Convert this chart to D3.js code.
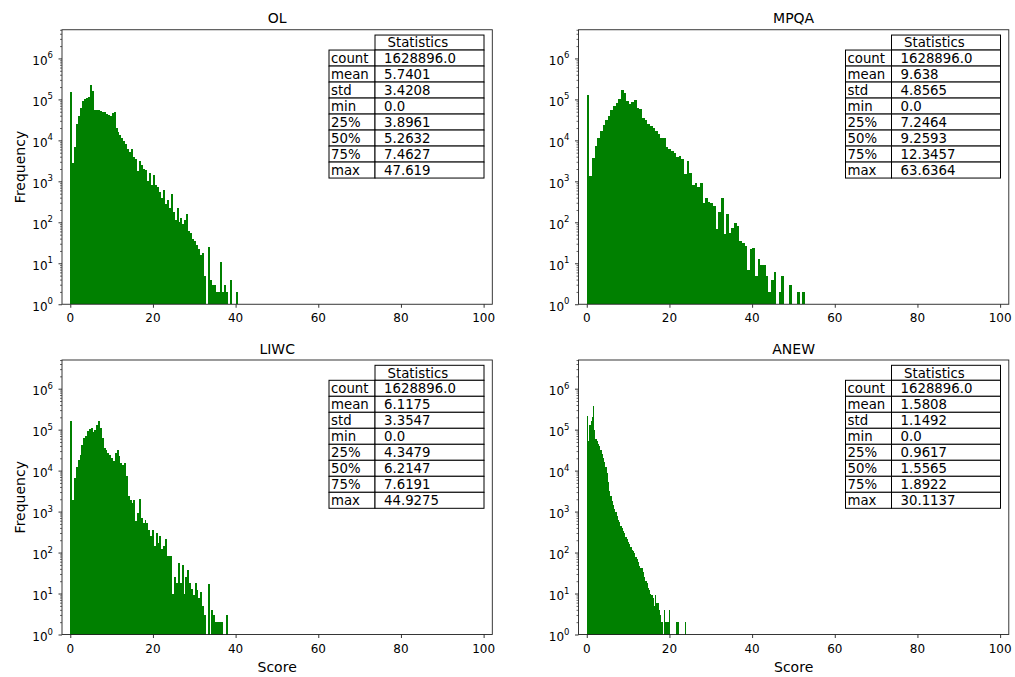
<!DOCTYPE html>
<html>
<head>
<meta charset="utf-8">
<script src="https://cdn.jsdelivr.net/npm/d3@7"></script>
<style>
  body { margin: 0; background: #fff; }
  svg { display: block; }
  text { font-family: "DejaVu Sans", sans-serif; fill: #000; }
</style>
</head>
<body>
<svg id="chart" width="1015" height="677"></svg>
<script>
// Lexicon score histograms: 100 equal-width bins from 0 to each lexicon's max score.
const panelNames = ["OL", "MPQA", "LIWC", "ANEW"];
const scoreMax = [47.619, 63.6364, 44.9275, 30.1137];

// Bin counts (bins past the last listed one hold at most one tweet)
const olCounts = [155000, 2820, 7080, 25100, 39800, 63100, 89100, 102300, 107200, 112200,
  223900, 158500, 56200, 55000, 53700, 52500, 50100, 47900, 44700, 41700,
  39800, 45700, 47900, 20000, 15800, 13200, 11200, 9550, 7940, 6030,
  5250, 6310, 3980, 3550, 1780, 3160, 2510, 2000, 1910, 1000,
  1580, 794, 1410, 794, 708, 562, 398, 631, 282, 355,
  224, 501, 178, 112, 224, 100, 126, 89, 112, 158,
  63, 56, 40, 35, 28, 22, 16, 18, 5, 0,
  25, 4, 3, 3, 2, 2, 11, 2, 3, 2,
  0, 4, 0, 0, 2];
const mpqaCounts = [126000, 1350, 3800, 7240, 11500, 17400, 24000, 31600, 39800, 55000,
  70800, 83200, 104700, 166000, 144500, 93300, 79400, 85100, 95500, 60300,
  58900, 35500, 31600, 25700, 22400, 20400, 17000, 14100, 11700, 11200,
  6900, 6030, 5500, 5010, 3980, 4170, 3470, 1480, 3160, 1620,
  813, 933, 708, 891, 302, 398, 316, 302, 251, 68,
  178, 398, 51, 158, 56, 74, 98, 81, 35, 32,
  26, 7, 22, 23, 5, 13, 9, 9, 5, 2,
  4, 6, 0, 2, 5, 0, 0, 3, 0, 0,
  2, 0, 2];
const liwcCounts = [166000, 1950, 6600, 12600, 18600, 24500, 42700, 63100, 70800, 91200,
  104700, 109600, 87100, 100000, 131800, 158500, 109600, 63100, 35500, 32400,
  26900, 23400, 20400, 17000, 26900, 31600, 22400, 15500, 14100, 15500,
  7240, 2340, 1950, 1660, 1950, 575, 933, 2040, 708, 525,
  631, 513, 363, 251, 363, 148, 302, 174, 251, 123,
  141, 209, 81, 81, 81, 10, 26, 18, 56, 18,
  51, 10, 26, 38, 18, 13, 9, 18, 12, 8,
  11, 5, 3, 0, 17, 0, 4, 3, 2, 2,
  2, 2, 0, 0, 3];
const anewCounts = [213800, 52500, 131800, 158500, 199500, 380200, 100000, 60300, 52500, 45700,
  39800, 31600, 25100, 20000, 15800, 12000, 8910, 5250, 3160, 2400,
  1780, 1410, 1150, 955, 759, 631, 550, 457, 398, 331,
  295, 240, 209, 186, 166, 138, 117, 107, 95, 79,
  71, 60, 46, 41, 42, 33, 25, 20, 18, 14,
  12, 10, 9, 8, 5, 9, 6, 6, 4, 3,
  2, 0, 4, 2, 2, 2, 4, 0, 0, 0,
  0, 0, 2, 2, 0, 0, 0, 0, 0, 2];
const allCounts = [olCounts, mpqaCounts, liwcCounts, anewCounts];

// describe() summary for each lexicon
const statLabels = ["count", "mean", "std", "min", "25%", "50%", "75%", "max"];
const olStats   = ["1628896.0", "5.7401", "3.4208", "0.0", "3.8961", "5.2632", "7.4627", "47.619"];
const mpqaStats = ["1628896.0", "9.638", "4.8565", "0.0", "7.2464", "9.2593", "12.3457", "63.6364"];
const liwcStats = ["1628896.0", "6.1175", "3.3547", "0.0", "4.3479", "6.2147", "7.6191", "44.9275"];
const anewStats = ["1628896.0", "1.5808", "1.1492", "0.0", "0.9617", "1.5565", "1.8922", "30.1137"];
const allStats = [olStats, mpqaStats, liwcStats, anewStats];

const xTicks = [0, 20, 40, 60, 80, 100];
const yDecades = [0, 1, 2, 3, 4, 5, 6];

// Layout
const panelLeft = [62, 578.5];
const panelTop = [29.75, 360];
const W = 430.3, H = 274.5;
const barColor = "#008000";

const svg = d3.select("#chart");

const x = d3.scaleLinear().domain([-2, 102.1]).range([0, W]);
const y = d3.scaleLog().domain([1, Math.pow(10, 6.7)]).range([H, 0]);

const minorTicks = [];
for (let k = 0; k <= 6; k++) {
  for (let m = 2; m <= 9; m++) {
    const v = m * Math.pow(10, k);
    if (v <= y.domain()[1]) minorTicks.push(v);
  }
}

panelNames.forEach((name, p) => {
  const col = p % 2, row = Math.floor(p / 2);
  const g = svg.append("g")
    .attr("transform", `translate(${panelLeft[col]},${panelTop[row]})`);

  const counts = allCounts[p];
  const bw = scoreMax[p] / 100;
  const bins = counts.map((c, i) => ({ x0: i * bw, x1: (i + 1) * bw, c }));

  // bars
  g.append("g").selectAll("rect")
    .data(bins.filter(d => d.c > 1))
    .join("rect")
    .attr("x", d => x(d.x0))
    .attr("width", d => x(d.x1) - x(d.x0))
    .attr("y", d => y(d.c))
    .attr("height", d => y(1) - y(d.c))
    .attr("fill", barColor)
    .attr("shape-rendering", "crispEdges");

  // x axis ticks
  const xa = g.append("g").attr("transform", `translate(0,${H})`)
    .call(d3.axisBottom(x).tickValues(xTicks).tickSize(3.5).tickSizeOuter(0).tickFormat(""));
  xa.select(".domain").remove();
  xa.selectAll("line").attr("stroke", "#000").attr("stroke-width", 0.8);
  g.append("g").selectAll("text")
    .data(xTicks)
    .join("text")
    .attr("x", d => x(d))
    .attr("y", H + 18.2)
    .attr("text-anchor", "middle")
    .style("font-size", "12px")
    .text(d => d);

  // y axis: major and minor log ticks
  const ya = g.append("g")
    .call(d3.axisLeft(y).tickValues(yDecades.map(k => Math.pow(10, k))).tickSize(3.5).tickSizeOuter(0).tickFormat(""));
  ya.select(".domain").remove();
  ya.selectAll("line").attr("stroke", "#000").attr("stroke-width", 0.8);
  const ym = g.append("g")
    .call(d3.axisLeft(y).tickValues(minorTicks).tickSize(2).tickSizeOuter(0).tickFormat(""));
  ym.select(".domain").remove();
  ym.selectAll("line").attr("stroke", "#000").attr("stroke-width", 0.6);

  const yl = g.append("g").selectAll("text")
    .data(yDecades)
    .join("text")
    .attr("x", -9)
    .attr("y", k => y(Math.pow(10, k)) + 6.6)
    .attr("text-anchor", "end")
    .style("font-size", "12px");
  yl.append("tspan").text("10");
  yl.append("tspan").attr("dy", -6.6).style("font-size", "8.5px").text(k => k);

  // frame
  g.append("rect")
    .attr("x", 0).attr("y", 0).attr("width", W).attr("height", H)
    .attr("fill", "none").attr("stroke", "#222").attr("stroke-width", 0.9);

  // title
  g.append("text")
    .attr("x", W / 2).attr("y", -6.5)
    .attr("text-anchor", "middle")
    .style("font-size", "14px")
    .text(name);

  if (col === 0) {
    g.append("text")
      .attr("transform", `translate(-37,${H / 2}) rotate(-90)`)
      .attr("text-anchor", "middle")
      .style("font-size", "14px")
      .text("Frequency");
  }
  if (row === 1) {
    g.append("text")
      .attr("x", W / 2).attr("y", H + 37.2)
      .attr("text-anchor", "middle")
      .style("font-size", "14px")
      .text("Score");
  }

  // statistics table
  const tx = 267, ty = 5.3, c0 = 46, c1 = 109, hh = 15, rh = 16;
  const tg = g.append("g").attr("transform", `translate(${tx},${ty})`);
  const cellStyle = sel => sel.attr("fill", "#fff").attr("stroke", "#000").attr("stroke-width", 1);
  tg.append("rect").attr("x", c0).attr("y", 0).attr("width", c1).attr("height", hh).call(cellStyle);
  tg.append("text")
    .attr("x", c0 + 12.5).attr("y", hh / 2).attr("dy", "0.36em")
    .style("font-size", "13.3px")
    .text("Statistics");
  const stats = allStats[p];
  statLabels.forEach((lab, r) => {
    const ry = hh + r * rh;
    tg.append("rect").attr("x", 0).attr("y", ry).attr("width", c0).attr("height", rh).call(cellStyle);
    tg.append("rect").attr("x", c0).attr("y", ry).attr("width", c1).attr("height", rh).call(cellStyle);
    tg.append("text")
      .attr("x", 2).attr("y", ry + rh / 2).attr("dy", "0.36em")
      .style("font-size", "13.3px")
      .text(lab);
    tg.append("text")
      .attr("x", c0 + 9).attr("y", ry + rh / 2).attr("dy", "0.36em")
      .style("font-size", "13.3px")
      .text(stats[r]);
  });
});
</script>
</body>
</html>
